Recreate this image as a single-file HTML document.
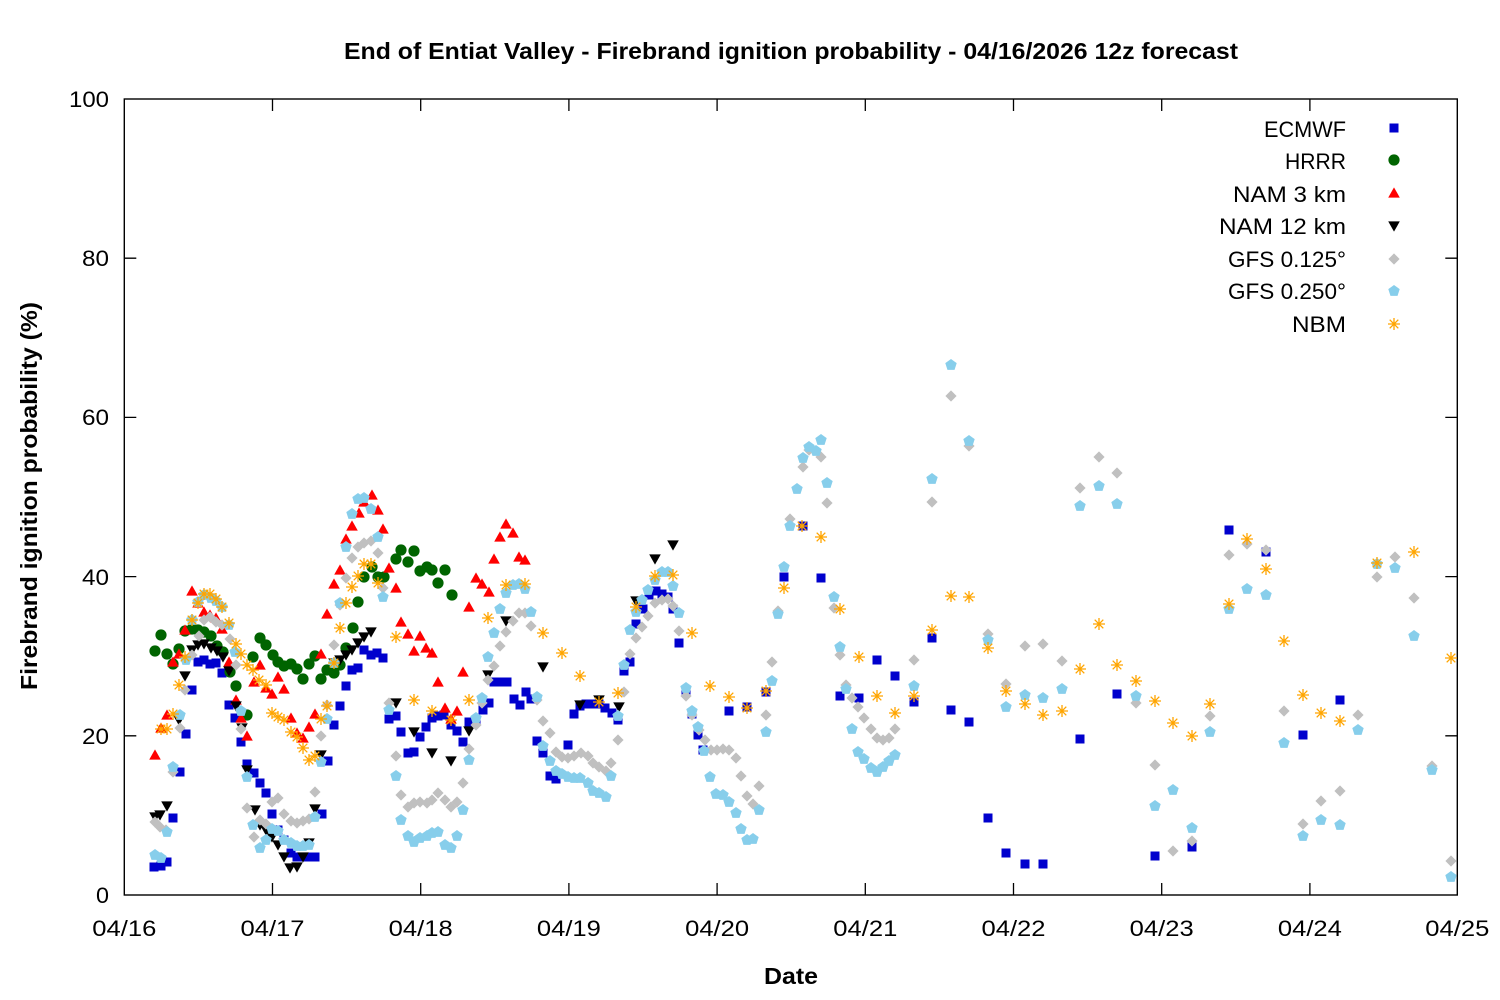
<!DOCTYPE html>
<html><head><meta charset="utf-8"><style>
html,body{margin:0;padding:0;background:#fff;}
svg{display:block;font-family:"Liberation Sans",sans-serif;}
</style></head><body>
<svg width="1500" height="1000" viewBox="0 0 1500 1000" xmlns="http://www.w3.org/2000/svg">
<defs>
<rect id="s" x="-4.5" y="-4.5" width="9" height="9" fill="#0000cd"/>
<circle id="c" r="5.6" fill="#006400"/>
<polygon id="u" points="-5.8,4.6 5.8,4.6 0,-5.6" fill="#ff0000"/>
<polygon id="d" points="-5.8,-4.6 5.8,-4.6 0,5.6" fill="#000000"/>
<polygon id="g" points="0,-5.6 5.6,0 0,5.6 -5.6,0" fill="#c0c0c0"/>
<polygon id="p" points="0,-6 5.7,-1.85 3.53,4.9 -3.53,4.9 -5.7,-1.85" fill="#87ceeb"/>
<g id="a" stroke="#ffa500" stroke-width="1.3" fill="none"><path d="M-6,0H6M0,-6V6M-4.3,-4.3L4.3,4.3M-4.3,4.3L4.3,-4.3"/></g>
</defs>
<rect x="0" y="0" width="1500" height="1000" fill="#fff"/>
<!-- frame -->
<rect x="124.3" y="99" width="1333" height="796" fill="none" stroke="#000" stroke-width="1.4"/>
<g stroke="#000" stroke-width="1.3">
<path d="M272.5,895v-12M420.7,895v-12M568.9,895v-12M717.1,895v-12M865.3,895v-12M1013.5,895v-12M1161.7,895v-12M1309.9,895v-12"/>
<path d="M272.5,99v12M420.7,99v12M568.9,99v12M717.1,99v12M865.3,99v12M1013.5,99v12M1161.7,99v12M1309.9,99v12"/>
<path d="M124.3,735.8h12M124.3,576.6h12M124.3,417.4h12M124.3,258.2h12"/>
<path d="M1457.3,735.8h-12M1457.3,576.6h-12M1457.3,417.4h-12M1457.3,258.2h-12"/>
</g>
<!-- y tick labels -->
<g font-size="22" text-anchor="end" fill="#000">
<text x="109" y="903" textLength="13" lengthAdjust="spacingAndGlyphs">0</text>
<text x="109" y="744" textLength="27" lengthAdjust="spacingAndGlyphs">20</text>
<text x="109" y="585" textLength="27" lengthAdjust="spacingAndGlyphs">40</text>
<text x="109" y="425" textLength="27" lengthAdjust="spacingAndGlyphs">60</text>
<text x="109" y="266" textLength="27" lengthAdjust="spacingAndGlyphs">80</text>
<text x="109" y="107" textLength="40" lengthAdjust="spacingAndGlyphs">100</text>
</g>
<!-- x tick labels -->
<g font-size="22" text-anchor="middle" fill="#000">
<text x="124.3" y="936" textLength="64" lengthAdjust="spacingAndGlyphs">04/16</text>
<text x="272.5" y="936" textLength="64" lengthAdjust="spacingAndGlyphs">04/17</text>
<text x="420.7" y="936" textLength="64" lengthAdjust="spacingAndGlyphs">04/18</text>
<text x="568.9" y="936" textLength="64" lengthAdjust="spacingAndGlyphs">04/19</text>
<text x="717.1" y="936" textLength="64" lengthAdjust="spacingAndGlyphs">04/20</text>
<text x="865.3" y="936" textLength="64" lengthAdjust="spacingAndGlyphs">04/21</text>
<text x="1013.5" y="936" textLength="64" lengthAdjust="spacingAndGlyphs">04/22</text>
<text x="1161.7" y="936" textLength="64" lengthAdjust="spacingAndGlyphs">04/23</text>
<text x="1309.9" y="936" textLength="64" lengthAdjust="spacingAndGlyphs">04/24</text>
<text x="1457.3" y="936" textLength="64" lengthAdjust="spacingAndGlyphs">04/25</text>
</g>
<!-- titles -->
<text x="791" y="59" font-size="23" font-weight="bold" text-anchor="middle" textLength="894" lengthAdjust="spacingAndGlyphs">End of Entiat Valley - Firebrand ignition probability - 04/16/2026 12z forecast</text>
<text x="791" y="984" font-size="23" font-weight="bold" text-anchor="middle" textLength="54" lengthAdjust="spacingAndGlyphs">Date</text>
<text transform="translate(37,496) rotate(-90)" x="0" y="0" font-size="23" font-weight="bold" text-anchor="middle" textLength="388" lengthAdjust="spacingAndGlyphs">Firebrand ignition probability (%)</text>
<!-- legend -->
<g font-size="22" text-anchor="end" fill="#000">
<text x="1346" y="137" textLength="82" lengthAdjust="spacingAndGlyphs">ECMWF</text>
<text x="1346" y="169" textLength="61" lengthAdjust="spacingAndGlyphs">HRRR</text>
<text x="1346" y="202" textLength="113" lengthAdjust="spacingAndGlyphs">NAM 3 km</text>
<text x="1346" y="234" textLength="127" lengthAdjust="spacingAndGlyphs">NAM 12 km</text>
<text x="1346" y="267" textLength="118" lengthAdjust="spacingAndGlyphs">GFS 0.125°</text>
<text x="1346" y="299" textLength="118" lengthAdjust="spacingAndGlyphs">GFS 0.250°</text>
<text x="1346" y="332" textLength="54" lengthAdjust="spacingAndGlyphs">NBM</text>
</g>
<use href="#s" x="1394" y="128"/>
<use href="#c" x="1394" y="160"/>
<use href="#u" x="1394" y="193"/>
<use href="#d" x="1394" y="226"/>
<use href="#g" x="1394" y="259"/>
<use href="#p" x="1394" y="291"/>
<use href="#a" x="1394" y="324"/>
<!-- ECMWF -->
<g>
<use href="#s" x="154" y="867"/><use href="#s" x="161" y="866"/><use href="#s" x="167" y="862"/><use href="#s" x="173" y="818"/><use href="#s" x="180" y="772"/><use href="#s" x="186" y="734"/><use href="#s" x="192" y="690"/><use href="#s" x="198" y="662"/><use href="#s" x="204" y="660"/><use href="#s" x="210" y="664"/><use href="#s" x="216" y="663"/><use href="#s" x="222" y="673"/><use href="#s" x="229" y="705"/><use href="#s" x="235" y="718"/><use href="#s" x="241" y="742"/><use href="#s" x="247" y="764"/><use href="#s" x="254" y="773"/><use href="#s" x="260" y="783"/><use href="#s" x="266" y="793"/><use href="#s" x="272" y="814"/><use href="#s" x="278" y="830"/><use href="#s" x="284" y="840"/><use href="#s" x="291" y="853"/><use href="#s" x="297" y="857"/><use href="#s" x="303" y="857"/><use href="#s" x="309" y="857"/><use href="#s" x="315" y="857"/><use href="#s" x="322" y="814"/><use href="#s" x="328" y="761"/><use href="#s" x="334" y="725"/><use href="#s" x="340" y="706"/><use href="#s" x="346" y="686"/><use href="#s" x="352" y="670"/><use href="#s" x="358" y="668"/><use href="#s" x="364" y="650"/><use href="#s" x="371" y="655"/><use href="#s" x="377" y="653"/><use href="#s" x="383" y="658"/><use href="#s" x="389" y="719"/><use href="#s" x="396" y="716"/><use href="#s" x="401" y="732"/><use href="#s" x="408" y="753"/><use href="#s" x="414" y="752"/><use href="#s" x="420" y="737"/><use href="#s" x="426" y="727"/><use href="#s" x="432" y="718"/><use href="#s" x="438" y="716"/><use href="#s" x="444" y="715"/><use href="#s" x="451" y="725"/><use href="#s" x="457" y="731"/><use href="#s" x="463" y="742"/><use href="#s" x="469" y="722"/><use href="#s" x="476" y="721"/><use href="#s" x="483" y="710"/><use href="#s" x="489" y="703"/><use href="#s" x="494" y="682"/><use href="#s" x="501" y="682"/><use href="#s" x="507" y="682"/><use href="#s" x="514" y="699"/><use href="#s" x="520" y="705"/><use href="#s" x="526" y="692"/><use href="#s" x="531" y="699"/><use href="#s" x="537" y="741"/><use href="#s" x="543" y="753"/><use href="#s" x="550" y="776"/><use href="#s" x="556" y="779"/><use href="#s" x="568" y="745"/><use href="#s" x="574" y="714"/><use href="#s" x="580" y="706"/><use href="#s" x="586" y="704"/><use href="#s" x="592" y="704"/><use href="#s" x="599" y="704"/><use href="#s" x="605" y="708"/><use href="#s" x="612" y="713"/><use href="#s" x="618" y="720"/><use href="#s" x="624" y="671"/><use href="#s" x="630" y="662"/><use href="#s" x="636" y="624"/><use href="#s" x="643" y="609"/><use href="#s" x="649" y="595"/><use href="#s" x="656" y="591"/><use href="#s" x="662" y="594"/><use href="#s" x="668" y="597"/><use href="#s" x="673" y="609"/><use href="#s" x="679" y="643"/><use href="#s" x="686" y="690"/><use href="#s" x="692" y="714"/><use href="#s" x="698" y="735"/><use href="#s" x="703" y="750"/><use href="#s" x="729" y="711"/><use href="#s" x="747" y="707"/><use href="#s" x="766" y="692"/><use href="#s" x="784" y="577"/><use href="#s" x="803" y="526"/><use href="#s" x="821" y="578"/><use href="#s" x="840" y="696"/><use href="#s" x="859" y="698"/><use href="#s" x="877" y="660"/><use href="#s" x="895" y="676"/><use href="#s" x="914" y="702"/><use href="#s" x="932" y="638"/><use href="#s" x="951" y="710"/><use href="#s" x="969" y="722"/><use href="#s" x="988" y="818"/><use href="#s" x="1006" y="853"/><use href="#s" x="1025" y="864"/><use href="#s" x="1043" y="864"/><use href="#s" x="1080" y="739"/><use href="#s" x="1117" y="694"/><use href="#s" x="1155" y="856"/><use href="#s" x="1192" y="847"/><use href="#s" x="1229" y="530"/><use href="#s" x="1266" y="552"/><use href="#s" x="1303" y="735"/><use href="#s" x="1340" y="700"/>
</g>
<!-- HRRR -->
<g>
<use href="#c" x="155" y="651"/><use href="#c" x="161" y="635"/><use href="#c" x="167" y="654"/><use href="#c" x="173" y="664"/><use href="#c" x="179" y="649"/><use href="#c" x="185" y="631"/><use href="#c" x="192" y="629"/><use href="#c" x="198" y="630"/><use href="#c" x="204" y="632"/><use href="#c" x="211" y="636"/><use href="#c" x="217" y="646"/><use href="#c" x="223" y="652"/><use href="#c" x="230" y="672"/><use href="#c" x="236" y="686"/><use href="#c" x="247" y="715"/><use href="#c" x="253" y="657"/><use href="#c" x="260" y="638"/><use href="#c" x="266" y="645"/><use href="#c" x="273" y="655"/><use href="#c" x="278" y="662"/><use href="#c" x="284" y="666"/><use href="#c" x="291" y="664"/><use href="#c" x="297" y="669"/><use href="#c" x="303" y="679"/><use href="#c" x="309" y="664"/><use href="#c" x="315" y="656"/><use href="#c" x="321" y="679"/><use href="#c" x="327" y="670"/><use href="#c" x="334" y="673"/><use href="#c" x="340" y="665"/><use href="#c" x="346" y="648"/><use href="#c" x="353" y="628"/><use href="#c" x="358" y="602"/><use href="#c" x="364" y="577"/><use href="#c" x="372" y="567"/><use href="#c" x="378" y="577"/><use href="#c" x="384" y="577"/><use href="#c" x="396" y="559"/><use href="#c" x="401" y="550"/><use href="#c" x="408" y="562"/><use href="#c" x="414" y="551"/><use href="#c" x="420" y="571"/><use href="#c" x="427" y="567"/><use href="#c" x="432" y="570"/><use href="#c" x="438" y="583"/><use href="#c" x="445" y="570"/><use href="#c" x="452" y="595"/>
</g>
<!-- NAM 3 km -->
<g>
<use href="#u" x="155" y="755"/><use href="#u" x="161" y="728"/><use href="#u" x="167" y="715"/><use href="#u" x="173" y="662"/><use href="#u" x="179" y="654"/><use href="#u" x="185" y="630"/><use href="#u" x="192" y="591"/><use href="#u" x="198" y="603"/><use href="#u" x="204" y="612"/><use href="#u" x="210" y="615"/><use href="#u" x="216" y="618"/><use href="#u" x="222" y="629"/><use href="#u" x="229" y="662"/><use href="#u" x="236" y="700"/><use href="#u" x="241" y="718"/><use href="#u" x="247" y="736"/><use href="#u" x="254" y="682"/><use href="#u" x="260" y="665"/><use href="#u" x="266" y="688"/><use href="#u" x="272" y="694"/><use href="#u" x="278" y="677"/><use href="#u" x="284" y="689"/><use href="#u" x="291" y="718"/><use href="#u" x="297" y="733"/><use href="#u" x="303" y="738"/><use href="#u" x="309" y="727"/><use href="#u" x="315" y="714"/><use href="#u" x="321" y="654"/><use href="#u" x="327" y="614"/><use href="#u" x="334" y="584"/><use href="#u" x="340" y="570"/><use href="#u" x="346" y="539"/><use href="#u" x="352" y="526"/><use href="#u" x="359" y="513"/><use href="#u" x="364" y="502"/><use href="#u" x="372" y="495"/><use href="#u" x="378" y="510"/><use href="#u" x="383" y="529"/><use href="#u" x="389" y="568"/><use href="#u" x="396" y="588"/><use href="#u" x="401" y="622"/><use href="#u" x="408" y="634"/><use href="#u" x="414" y="651"/><use href="#u" x="420" y="636"/><use href="#u" x="426" y="648"/><use href="#u" x="432" y="653"/><use href="#u" x="438" y="682"/><use href="#u" x="445" y="708"/><use href="#u" x="451" y="719"/><use href="#u" x="457" y="711"/><use href="#u" x="463" y="672"/><use href="#u" x="469" y="607"/><use href="#u" x="476" y="578"/><use href="#u" x="482" y="584"/><use href="#u" x="489" y="592"/><use href="#u" x="494" y="559"/><use href="#u" x="500" y="537"/><use href="#u" x="506" y="524"/><use href="#u" x="513" y="533"/><use href="#u" x="519" y="557"/><use href="#u" x="525" y="560"/>
</g>
<!-- NAM 12 km -->
<g>
<use href="#d" x="155" y="817"/><use href="#d" x="160" y="815"/><use href="#d" x="167" y="806"/><use href="#d" x="179" y="720"/><use href="#d" x="185" y="676"/><use href="#d" x="192" y="650"/><use href="#d" x="198" y="645"/><use href="#d" x="204" y="644"/><use href="#d" x="211" y="648"/><use href="#d" x="217" y="651"/><use href="#d" x="223" y="657"/><use href="#d" x="229" y="671"/><use href="#d" x="236" y="706"/><use href="#d" x="242" y="728"/><use href="#d" x="247" y="770"/><use href="#d" x="255" y="810"/><use href="#d" x="260" y="825"/><use href="#d" x="266" y="830"/><use href="#d" x="272" y="837"/><use href="#d" x="278" y="845"/><use href="#d" x="284" y="857"/><use href="#d" x="290" y="868"/><use href="#d" x="297" y="867"/><use href="#d" x="303" y="857"/><use href="#d" x="309" y="843"/><use href="#d" x="315" y="809"/><use href="#d" x="321" y="755"/><use href="#d" x="334" y="663"/><use href="#d" x="340" y="660"/><use href="#d" x="346" y="655"/><use href="#d" x="352" y="650"/><use href="#d" x="358" y="643"/><use href="#d" x="364" y="637"/><use href="#d" x="371" y="632"/><use href="#d" x="396" y="703"/><use href="#d" x="414" y="732"/><use href="#d" x="432" y="753"/><use href="#d" x="451" y="761"/><use href="#d" x="469" y="731"/><use href="#d" x="488" y="675"/><use href="#d" x="506" y="621"/><use href="#d" x="543" y="667"/><use href="#d" x="580" y="705"/><use href="#d" x="599" y="700"/><use href="#d" x="619" y="707"/><use href="#d" x="636" y="601"/><use href="#d" x="655" y="559"/><use href="#d" x="673" y="545"/>
</g>
<!-- GFS 0.125 -->
<g>
<use href="#g" x="155" y="822"/><use href="#g" x="160" y="827"/><use href="#g" x="166" y="830"/><use href="#g" x="173" y="772"/><use href="#g" x="180" y="728"/><use href="#g" x="185" y="690"/><use href="#g" x="192" y="655"/><use href="#g" x="199" y="636"/><use href="#g" x="204" y="620"/><use href="#g" x="210" y="617"/><use href="#g" x="216" y="622"/><use href="#g" x="222" y="625"/><use href="#g" x="230" y="639"/><use href="#g" x="236" y="665"/><use href="#g" x="241" y="729"/><use href="#g" x="247" y="808"/><use href="#g" x="254" y="837"/><use href="#g" x="260" y="820"/><use href="#g" x="266" y="824"/><use href="#g" x="272" y="802"/><use href="#g" x="278" y="798"/><use href="#g" x="284" y="814"/><use href="#g" x="291" y="821"/><use href="#g" x="297" y="823"/><use href="#g" x="303" y="821"/><use href="#g" x="309" y="819"/><use href="#g" x="315" y="792"/><use href="#g" x="321" y="736"/><use href="#g" x="327" y="705"/><use href="#g" x="334" y="645"/><use href="#g" x="340" y="605"/><use href="#g" x="346" y="578"/><use href="#g" x="352" y="558"/><use href="#g" x="358" y="547"/><use href="#g" x="364" y="543"/><use href="#g" x="371" y="541"/><use href="#g" x="378" y="553"/><use href="#g" x="383" y="588"/><use href="#g" x="389" y="703"/><use href="#g" x="396" y="756"/><use href="#g" x="401" y="795"/><use href="#g" x="408" y="807"/><use href="#g" x="414" y="803"/><use href="#g" x="420" y="802"/><use href="#g" x="427" y="803"/><use href="#g" x="432" y="800"/><use href="#g" x="438" y="793"/><use href="#g" x="445" y="800"/><use href="#g" x="451" y="807"/><use href="#g" x="457" y="802"/><use href="#g" x="463" y="783"/><use href="#g" x="469" y="749"/><use href="#g" x="476" y="725"/><use href="#g" x="482" y="703"/><use href="#g" x="488" y="680"/><use href="#g" x="494" y="666"/><use href="#g" x="500" y="646"/><use href="#g" x="506" y="632"/><use href="#g" x="513" y="621"/><use href="#g" x="519" y="613"/><use href="#g" x="525" y="613"/><use href="#g" x="531" y="626"/><use href="#g" x="537" y="700"/><use href="#g" x="543" y="721"/><use href="#g" x="550" y="733"/><use href="#g" x="556" y="752"/><use href="#g" x="562" y="757"/><use href="#g" x="568" y="758"/><use href="#g" x="574" y="756"/><use href="#g" x="581" y="753"/><use href="#g" x="588" y="756"/><use href="#g" x="593" y="763"/><use href="#g" x="599" y="767"/><use href="#g" x="606" y="771"/><use href="#g" x="611" y="763"/><use href="#g" x="618" y="740"/><use href="#g" x="624" y="692"/><use href="#g" x="630" y="654"/><use href="#g" x="636" y="638"/><use href="#g" x="642" y="627"/><use href="#g" x="648" y="616"/><use href="#g" x="655" y="603"/><use href="#g" x="662" y="600"/><use href="#g" x="668" y="599"/><use href="#g" x="673" y="606"/><use href="#g" x="679" y="631"/><use href="#g" x="686" y="696"/><use href="#g" x="692" y="715"/><use href="#g" x="699" y="730"/><use href="#g" x="705" y="740"/><use href="#g" x="711" y="750"/><use href="#g" x="717" y="750"/><use href="#g" x="723" y="749"/><use href="#g" x="729" y="750"/><use href="#g" x="736" y="758"/><use href="#g" x="741" y="776"/><use href="#g" x="747" y="796"/><use href="#g" x="753" y="804"/><use href="#g" x="759" y="786"/><use href="#g" x="766" y="715"/><use href="#g" x="772" y="662"/><use href="#g" x="778" y="611"/><use href="#g" x="790" y="519"/><use href="#g" x="803" y="467"/><use href="#g" x="809" y="450"/><use href="#g" x="821" y="457"/><use href="#g" x="827" y="503"/><use href="#g" x="834" y="608"/><use href="#g" x="840" y="655"/><use href="#g" x="846" y="685"/><use href="#g" x="852" y="698"/><use href="#g" x="858" y="707"/><use href="#g" x="864" y="718"/><use href="#g" x="871" y="729"/><use href="#g" x="877" y="738"/><use href="#g" x="883" y="740"/><use href="#g" x="889" y="738"/><use href="#g" x="895" y="729"/><use href="#g" x="914" y="660"/><use href="#g" x="932" y="502"/><use href="#g" x="951" y="396"/><use href="#g" x="969" y="446"/><use href="#g" x="988" y="634"/><use href="#g" x="1006" y="684"/><use href="#g" x="1025" y="646"/><use href="#g" x="1043" y="644"/><use href="#g" x="1062" y="661"/><use href="#g" x="1080" y="488"/><use href="#g" x="1099" y="457"/><use href="#g" x="1117" y="473"/><use href="#g" x="1136" y="703"/><use href="#g" x="1155" y="765"/><use href="#g" x="1173" y="851"/><use href="#g" x="1192" y="841"/><use href="#g" x="1210" y="716"/><use href="#g" x="1229" y="555"/><use href="#g" x="1247" y="544"/><use href="#g" x="1266" y="550"/><use href="#g" x="1284" y="711"/><use href="#g" x="1303" y="824"/><use href="#g" x="1321" y="801"/><use href="#g" x="1340" y="791"/><use href="#g" x="1358" y="715"/><use href="#g" x="1377" y="577"/><use href="#g" x="1395" y="557"/><use href="#g" x="1414" y="598"/><use href="#g" x="1432" y="766"/><use href="#g" x="1451" y="861"/>
</g>
<!-- GFS 0.250 -->
<g>
<use href="#p" x="155" y="855"/><use href="#p" x="161" y="858"/><use href="#p" x="167" y="832"/><use href="#p" x="173" y="767"/><use href="#p" x="180" y="715"/><use href="#p" x="186" y="660"/><use href="#p" x="192" y="620"/><use href="#p" x="198" y="602"/><use href="#p" x="204" y="595"/><use href="#p" x="211" y="598"/><use href="#p" x="216" y="601"/><use href="#p" x="222" y="607"/><use href="#p" x="229" y="625"/><use href="#p" x="235" y="652"/><use href="#p" x="241" y="711"/><use href="#p" x="247" y="777"/><use href="#p" x="253" y="825"/><use href="#p" x="260" y="848"/><use href="#p" x="266" y="840"/><use href="#p" x="272" y="829"/><use href="#p" x="278" y="831"/><use href="#p" x="284" y="840"/><use href="#p" x="291" y="843"/><use href="#p" x="297" y="846"/><use href="#p" x="303" y="846"/><use href="#p" x="309" y="845"/><use href="#p" x="315" y="817"/><use href="#p" x="321" y="762"/><use href="#p" x="327" y="719"/><use href="#p" x="334" y="663"/><use href="#p" x="340" y="603"/><use href="#p" x="346" y="547"/><use href="#p" x="352" y="514"/><use href="#p" x="358" y="499"/><use href="#p" x="364" y="498"/><use href="#p" x="371" y="509"/><use href="#p" x="378" y="537"/><use href="#p" x="383" y="597"/><use href="#p" x="389" y="710"/><use href="#p" x="396" y="776"/><use href="#p" x="401" y="820"/><use href="#p" x="408" y="836"/><use href="#p" x="414" y="842"/><use href="#p" x="420" y="838"/><use href="#p" x="427" y="836"/><use href="#p" x="432" y="833"/><use href="#p" x="438" y="832"/><use href="#p" x="445" y="845"/><use href="#p" x="451" y="848"/><use href="#p" x="457" y="836"/><use href="#p" x="463" y="810"/><use href="#p" x="469" y="760"/><use href="#p" x="476" y="718"/><use href="#p" x="482" y="698"/><use href="#p" x="488" y="657"/><use href="#p" x="494" y="633"/><use href="#p" x="500" y="609"/><use href="#p" x="506" y="593"/><use href="#p" x="513" y="585"/><use href="#p" x="519" y="584"/><use href="#p" x="525" y="589"/><use href="#p" x="531" y="612"/><use href="#p" x="537" y="697"/><use href="#p" x="543" y="746"/><use href="#p" x="550" y="761"/><use href="#p" x="556" y="771"/><use href="#p" x="562" y="774"/><use href="#p" x="568" y="777"/><use href="#p" x="574" y="778"/><use href="#p" x="580" y="778"/><use href="#p" x="588" y="783"/><use href="#p" x="593" y="791"/><use href="#p" x="599" y="793"/><use href="#p" x="606" y="797"/><use href="#p" x="611" y="776"/><use href="#p" x="618" y="716"/><use href="#p" x="624" y="665"/><use href="#p" x="630" y="630"/><use href="#p" x="636" y="612"/><use href="#p" x="642" y="600"/><use href="#p" x="648" y="590"/><use href="#p" x="655" y="580"/><use href="#p" x="662" y="572"/><use href="#p" x="668" y="572"/><use href="#p" x="673" y="586"/><use href="#p" x="679" y="613"/><use href="#p" x="686" y="688"/><use href="#p" x="692" y="711"/><use href="#p" x="698" y="727"/><use href="#p" x="704" y="751"/><use href="#p" x="710" y="777"/><use href="#p" x="716" y="794"/><use href="#p" x="723" y="795"/><use href="#p" x="729" y="802"/><use href="#p" x="736" y="813"/><use href="#p" x="741" y="829"/><use href="#p" x="747" y="840"/><use href="#p" x="753" y="839"/><use href="#p" x="759" y="810"/><use href="#p" x="766" y="732"/><use href="#p" x="772" y="681"/><use href="#p" x="778" y="614"/><use href="#p" x="784" y="567"/><use href="#p" x="790" y="526"/><use href="#p" x="797" y="489"/><use href="#p" x="803" y="458"/><use href="#p" x="809" y="447"/><use href="#p" x="816" y="451"/><use href="#p" x="821" y="440"/><use href="#p" x="827" y="483"/><use href="#p" x="834" y="597"/><use href="#p" x="840" y="647"/><use href="#p" x="846" y="689"/><use href="#p" x="852" y="729"/><use href="#p" x="858" y="752"/><use href="#p" x="864" y="759"/><use href="#p" x="871" y="768"/><use href="#p" x="877" y="772"/><use href="#p" x="883" y="767"/><use href="#p" x="889" y="761"/><use href="#p" x="895" y="755"/><use href="#p" x="914" y="686"/><use href="#p" x="932" y="479"/><use href="#p" x="951" y="365"/><use href="#p" x="969" y="441"/><use href="#p" x="988" y="640"/><use href="#p" x="1006" y="707"/><use href="#p" x="1025" y="695"/><use href="#p" x="1043" y="698"/><use href="#p" x="1062" y="689"/><use href="#p" x="1080" y="506"/><use href="#p" x="1099" y="486"/><use href="#p" x="1117" y="504"/><use href="#p" x="1136" y="696"/><use href="#p" x="1155" y="806"/><use href="#p" x="1173" y="790"/><use href="#p" x="1192" y="828"/><use href="#p" x="1210" y="732"/><use href="#p" x="1229" y="609"/><use href="#p" x="1247" y="589"/><use href="#p" x="1266" y="595"/><use href="#p" x="1284" y="743"/><use href="#p" x="1303" y="836"/><use href="#p" x="1321" y="820"/><use href="#p" x="1340" y="825"/><use href="#p" x="1358" y="730"/><use href="#p" x="1377" y="564"/><use href="#p" x="1395" y="568"/><use href="#p" x="1414" y="636"/><use href="#p" x="1432" y="770"/><use href="#p" x="1451" y="877"/>
</g>
<!-- NBM -->
<g>
<use href="#a" x="161" y="729"/><use href="#a" x="167" y="729"/><use href="#a" x="173" y="714"/><use href="#a" x="179" y="685"/><use href="#a" x="185" y="657"/><use href="#a" x="192" y="620"/><use href="#a" x="198" y="603"/><use href="#a" x="204" y="594"/><use href="#a" x="210" y="594"/><use href="#a" x="216" y="599"/><use href="#a" x="222" y="607"/><use href="#a" x="229" y="623"/><use href="#a" x="236" y="644"/><use href="#a" x="241" y="654"/><use href="#a" x="247" y="665"/><use href="#a" x="253" y="670"/><use href="#a" x="259" y="680"/><use href="#a" x="266" y="685"/><use href="#a" x="272" y="713"/><use href="#a" x="278" y="717"/><use href="#a" x="284" y="720"/><use href="#a" x="291" y="732"/><use href="#a" x="297" y="737"/><use href="#a" x="303" y="748"/><use href="#a" x="309" y="760"/><use href="#a" x="315" y="756"/><use href="#a" x="321" y="719"/><use href="#a" x="327" y="706"/><use href="#a" x="334" y="663"/><use href="#a" x="340" y="628"/><use href="#a" x="346" y="603"/><use href="#a" x="352" y="587"/><use href="#a" x="358" y="576"/><use href="#a" x="364" y="564"/><use href="#a" x="371" y="564"/><use href="#a" x="378" y="583"/><use href="#a" x="396" y="637"/><use href="#a" x="414" y="700"/><use href="#a" x="432" y="711"/><use href="#a" x="451" y="720"/><use href="#a" x="469" y="700"/><use href="#a" x="488" y="618"/><use href="#a" x="506" y="585"/><use href="#a" x="525" y="584"/><use href="#a" x="543" y="633"/><use href="#a" x="562" y="653"/><use href="#a" x="580" y="676"/><use href="#a" x="599" y="702"/><use href="#a" x="618" y="693"/><use href="#a" x="636" y="607"/><use href="#a" x="655" y="576"/><use href="#a" x="673" y="575"/><use href="#a" x="692" y="633"/><use href="#a" x="710" y="686"/><use href="#a" x="729" y="697"/><use href="#a" x="747" y="708"/><use href="#a" x="766" y="691"/><use href="#a" x="784" y="588"/><use href="#a" x="802" y="526"/><use href="#a" x="821" y="537"/><use href="#a" x="840" y="609"/><use href="#a" x="859" y="657"/><use href="#a" x="877" y="696"/><use href="#a" x="895" y="713"/><use href="#a" x="914" y="696"/><use href="#a" x="932" y="630"/><use href="#a" x="951" y="596"/><use href="#a" x="969" y="597"/><use href="#a" x="988" y="648"/><use href="#a" x="1006" y="691"/><use href="#a" x="1025" y="704"/><use href="#a" x="1043" y="715"/><use href="#a" x="1062" y="711"/><use href="#a" x="1080" y="669"/><use href="#a" x="1099" y="624"/><use href="#a" x="1117" y="665"/><use href="#a" x="1136" y="681"/><use href="#a" x="1155" y="701"/><use href="#a" x="1173" y="723"/><use href="#a" x="1192" y="736"/><use href="#a" x="1210" y="704"/><use href="#a" x="1229" y="604"/><use href="#a" x="1247" y="539"/><use href="#a" x="1266" y="569"/><use href="#a" x="1284" y="641"/><use href="#a" x="1303" y="695"/><use href="#a" x="1321" y="713"/><use href="#a" x="1340" y="721"/><use href="#a" x="1377" y="563"/><use href="#a" x="1414" y="552"/><use href="#a" x="1451" y="658"/>
</g>
</svg>
</body></html>
